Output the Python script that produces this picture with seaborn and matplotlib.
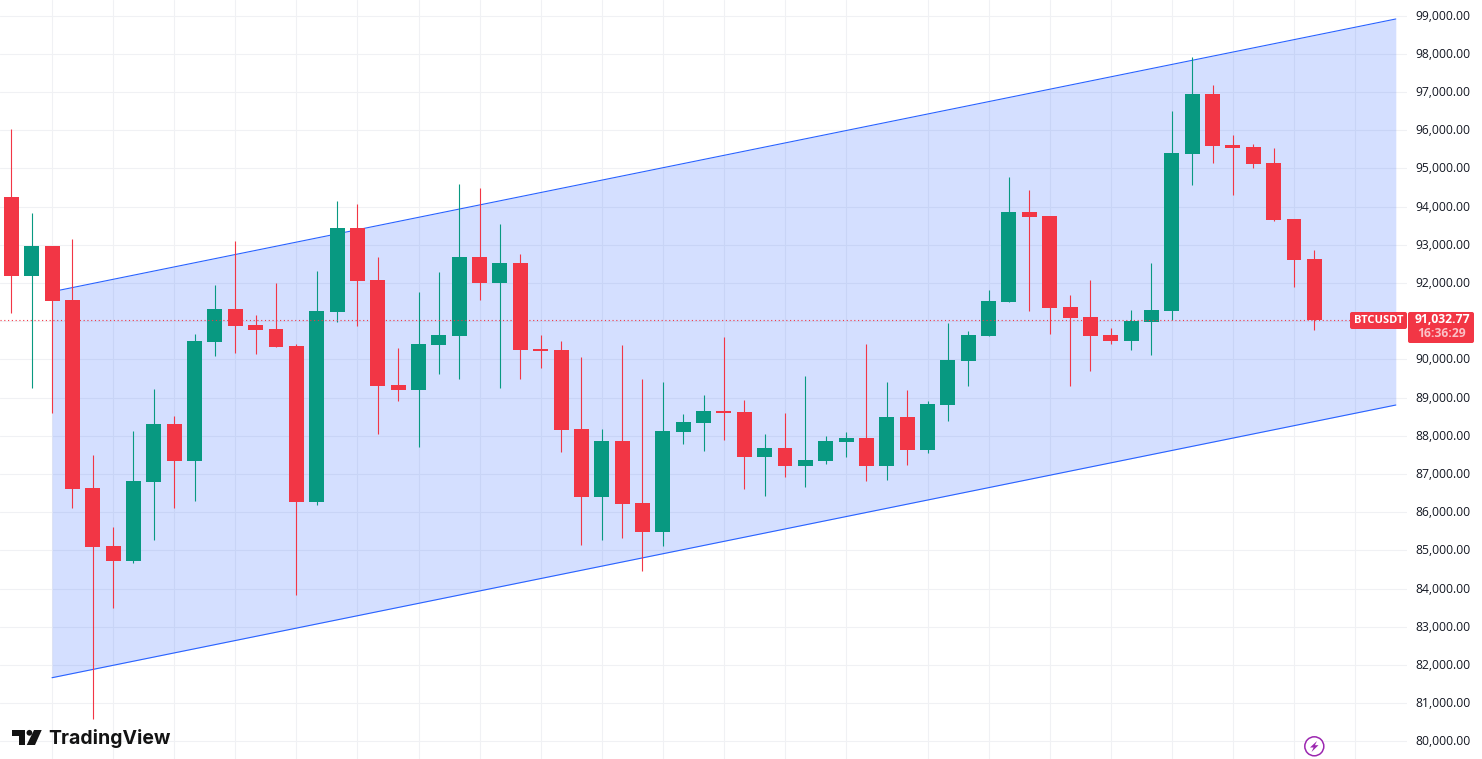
import pandas as pd
import matplotlib
matplotlib.use("Agg")
import matplotlib.pyplot as plt
import seaborn as sns
from matplotlib.patches import Circle, FancyBboxPatch, Polygon
from matplotlib.transforms import IdentityTransform, ScaledTranslation

# candle values, one per day
opens = [94250, 92189, 92967, 91553, 86631, 85113, 84720, 86796, 88307, 87338,
         90461, 91317, 90898, 90794, 90349, 86272, 91247, 93438, 92077, 89328,
         89205, 90383, 90619, 92679, 92006, 92522, 90270, 90244, 88176, 86403,
         87862, 86238, 85487, 88105, 88341, 88647, 88621, 87451, 87678, 87215,
         87346, 87843, 87940, 87215, 88490, 87634, 88812, 89964, 90619, 91508,
         93857, 93752, 91370, 91108, 90637, 90488, 90985, 91273, 95383, 96946,
         95611, 95559, 95140, 93674, 92626]
closes = [92189, 92967, 91527, 86605, 85094, 84720, 86814, 88307, 87338, 90480,
          91317, 90880, 90775, 90330, 86272, 91265, 93438, 92058, 89309, 89205,
          90401, 90637, 92679, 92006, 92522, 90252, 90218, 88157, 86403, 87862,
          86220, 85487, 88123, 88359, 88647, 88595, 87451, 87678, 87215, 87364,
          87862, 87940, 87215, 88490, 87634, 88830, 89982, 90637, 91527, 93857,
          93734, 91351, 91090, 90619, 90488, 91003, 91291, 95401, 96946, 95593,
          95540, 95121, 93655, 92608, 91032.77]
highs = [96030, 93831, 92967, 93150, 87495, 85610, 88123, 89223, 88516, 90663,
         91946, 93098, 91160, 91998, 90401, 92312, 94145, 94066, 92679, 90296,
         91762, 92286, 94590, 94485, 93543, 92757, 90637, 90480, 90061, 88176,
         90375, 89485, 89406, 88568, 89066, 90584, 88935, 88045, 88595, 89563,
         87993, 88097, 90401, 89406, 89197, 88909, 90951, 90741, 91815, 94773,
         94433, 93752, 91684, 92077, 90820, 91291, 92522, 96501, 97915, 97182,
         95873, 95637, 95532, 93674, 92862]
lows = [91220, 89257, 88603, 86115, 80592, 83497, 84675, 85278, 86115, 86299,
        90095, 90173, 90147, 90330, 83838, 86194, 90985, 90880, 88053, 88917,
        87712, 89623, 89493, 91561, 89257, 89493, 89781, 87581, 85147, 85278,
        85330, 84466, 85120, 87791, 87608, 87896, 86613, 86429, 86927, 86665,
        87267, 87451, 86822, 86848, 87241, 87555, 88393, 89309, 90619, 91508,
        91273, 90671, 89309, 89702, 90409, 90252, 90121, 91037, 94572, 95148,
        94310, 95017, 93629, 91901, 90776]

# channel drawn on the chart
channel_x = [2, 68]
channel_upper = [91770, 98910]
channel_lower = [81665, 88804]

last_price = 91032.77
price_ticks = list(range(80000, 100000, 1000))
# the time grid skips one bar where the month changes
time_grid = list(range(2, 42, 3)) + list(range(45, 67, 3))

RED = "#F23645"
GREEN = "#089981"
BLUE = "#2962FF"
GRID = "#F0F1F4"
TEXT = "#131722"
W, H = 1482, 759

sns.set_theme(style="white")
plt.rcParams["font.family"] = ["Open Sans", "DejaVu Sans"]

candles = pd.DataFrame({"day": range(len(opens)), "open": opens, "close": closes,
                        "high": highs, "low": lows})
candles["base"] = candles[["open", "close"]].min(axis=1)
candles["body"] = (candles["close"] - candles["open"]).abs()
up = candles[candles["close"] >= candles["open"]]
down = candles[candles["close"] < candles["open"]]

fig = plt.figure(figsize=(W / 100, H / 100), dpi=100)
ax = fig.add_axes([0, 0, 1407 / W, 1])

# channel
ax.fill_between(channel_x, channel_lower, channel_upper, color=BLUE, alpha=0.2,
                linewidth=0, zorder=2)
for bound in (channel_upper, channel_lower):
    sns.lineplot(x=channel_x, y=bound, color=BLUE, linewidth=0.8, ax=ax, zorder=3,
                 errorbar=None)

# wicks then bodies
ax.vlines(up["day"], up["low"], up["high"], color=GREEN, linewidth=0.8, zorder=4)
ax.vlines(down["day"], down["low"], down["high"], color=RED, linewidth=0.8, zorder=4)
sns.barplot(data=up, x="day", y="body", bottom=up["base"], native_scale=True,
            color=GREEN, saturation=1, width=0.735, linewidth=0, errorbar=None,
            ax=ax, zorder=5)
sns.barplot(data=down, x="day", y="body", bottom=down["base"], native_scale=True,
            color=RED, saturation=1, width=0.735, linewidth=0, errorbar=None,
            ax=ax, zorder=5)

ax.axhline(last_price, color=RED, linewidth=0.8, linestyle=(0, (1, 2.4)), zorder=6)

ax.set_xlim(-0.555, 68.55)
ax.set_ylim(79537, 99407)
ax.set_xlabel("")
ax.set_ylabel("")
ax.set_xticks(time_grid)
ax.set_yticks(price_ticks)
# 91,000 sits under the last price badge on the scale
ax.set_yticklabels(["" if p == 91000 else f"{p:,.2f}" for p in price_ticks])
ax.yaxis.tick_right()
ax.tick_params(axis="x", length=0, labelbottom=False)
ax.tick_params(axis="y", length=0, pad=6.3, labelsize=8.7, labelcolor=TEXT)
for label in ax.get_yticklabels():
    label.set_transform(label.get_transform() + ScaledTranslation(0, 1 / 100, fig.dpi_scale_trans))
ax.grid(True, color=GRID, linewidth=0.8, zorder=0)
ax.set_axisbelow(True)
sns.despine(ax=ax, left=True, right=True, top=True, bottom=True)

# price labels on the scale, placed in pixels
px = IdentityTransform()


def badge(x0, y0, x1, y1):
    patch = FancyBboxPatch((x0 + 1.5, H - y1 + 1.5), x1 - x0 - 3, y1 - y0 - 3,
                           boxstyle="round,pad=1.5,rounding_size=2",
                           facecolor=RED, edgecolor="none", transform=px, zorder=10)
    fig.add_artist(patch)


badge(1350, 312, 1407, 329)
badge(1408, 312, 1474, 343)
fig.text(1378.5, H - 320.5, "BTCUSDT", transform=px, color="white", fontsize=8.0,
         fontweight="bold", ha="center", va="center", zorder=11)
fig.text(1442, H - 319.5, "91,032.77", transform=px, color="white", fontsize=8.7,
         fontweight="bold", ha="center", va="center", zorder=11)
fig.text(1442, H - 333.5, "16:36:29", transform=px, color="#FBC1C7", fontsize=8.7,
         fontweight="bold", ha="center", va="center", zorder=11)

# TradingView logo
logo_t = [(12, 730), (25, 730), (25, 745), (18.5, 745), (18.5, 736), (12, 736)]
logo_slash = [(34, 730), (41.7, 730), (35, 745), (26.7, 745)]
for shape in (logo_t, logo_slash):
    fig.add_artist(Polygon([(x, H - y) for x, y in shape], closed=True,
                           facecolor="#131313", edgecolor="none", transform=px))
fig.add_artist(Circle((29.4, H - 732.8), 2.9, facecolor="#131313", edgecolor="none",
                      transform=px))
fig.text(48.5, H - 738, "TradingView", transform=px, color="#131313", fontsize=14,
         fontweight="bold", family=["Inter", "DejaVu Sans"], ha="left", va="center")

# lightning badge at the bottom
fig.add_artist(Circle((1314.3, H - 746.3), 9.5, facecolor="white", edgecolor="#9C27B0",
                      linewidth=1.1, transform=px))
bolt = [(1317, 741), (1310, 747.5), (1313.6, 747.5), (1311.5, 752), (1318.5, 745.2),
        (1314.9, 745.2)]
fig.add_artist(Polygon([(x, H - y) for x, y in bolt], closed=True, facecolor="#9C27B0",
                       edgecolor="none", transform=px))

fig.savefig("out.png", dpi=100)
